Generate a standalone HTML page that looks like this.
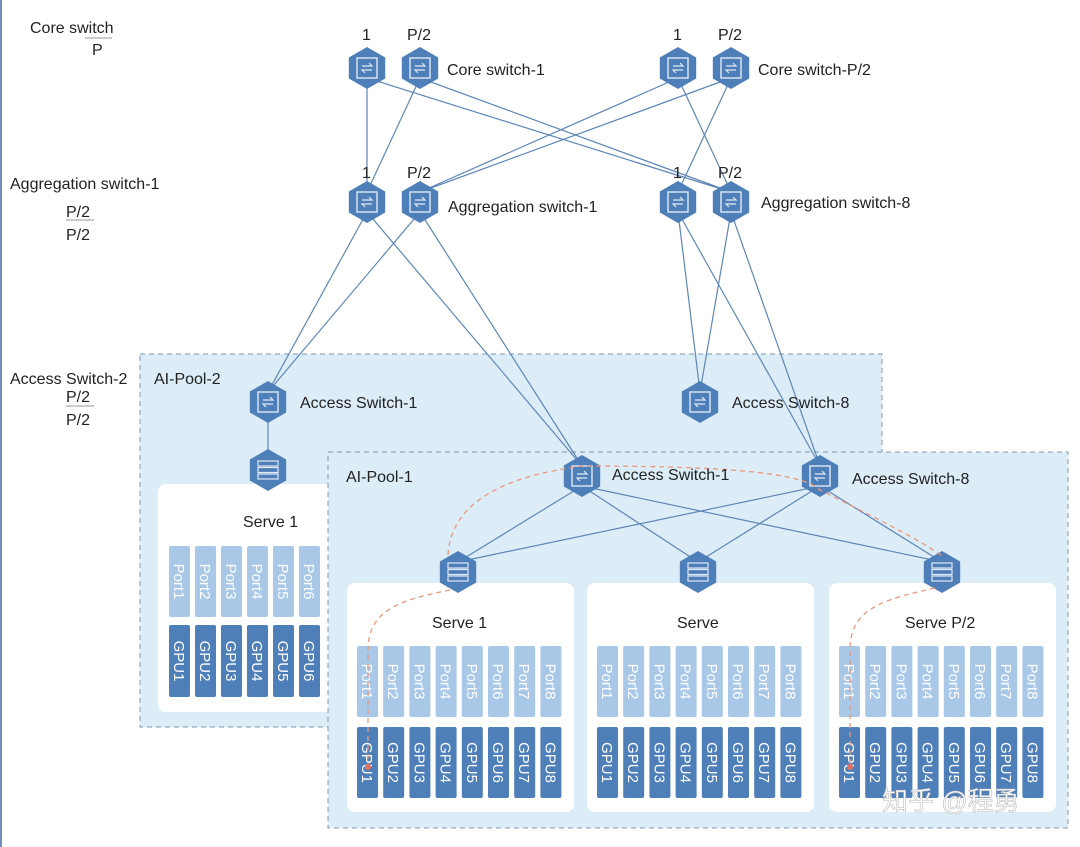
<!DOCTYPE html>
<html><head><meta charset="utf-8"><style>
html,body{margin:0;padding:0;background:#fff}
svg{display:block;font-family:"Liberation Sans","Noto Sans CJK SC",sans-serif}
</style></head><body>
<svg id="s" width="1080" height="847" viewBox="0 0 1080 847" xmlns="http://www.w3.org/2000/svg">
<rect x="0" y="0" width="2" height="847" fill="#6f8fb8"/>
<rect x="140" y="354" width="742" height="373" fill="#dcedf8" stroke="#7d97b0" stroke-dasharray="5,4"/>
<rect x="158" y="484" width="180" height="228" rx="8" fill="#fff"/>
<g id="lines" stroke="#5f86b6" stroke-width="1.2" fill="none"></g>
<rect x="328" y="452" width="740" height="376" fill="#dcedf8" stroke="#7d97b0" stroke-dasharray="5,4"/>
<g id="lines2" stroke="#5f86b6" stroke-width="1.2" fill="none"></g>
<g id="g"></g>
<g font-size="16" fill="#222">
<text x="30" y="33">Core switch</text><text x="92" y="55">P</text><line x1="85" y1="38" x2="112" y2="38" stroke="#999"/>
<text x="10" y="189">Aggregation switch-1</text><text x="66" y="217">P/2</text><line x1="66" y1="220" x2="94" y2="220" stroke="#999"/><text x="66" y="240">P/2</text>
<text x="10" y="384">Access Switch-2</text><text x="66" y="402">P/2</text><line x1="66" y1="406" x2="94" y2="406" stroke="#999"/><text x="66" y="425">P/2</text>
<text x="154" y="384">AI-Pool-2</text><text x="346" y="482">AI-Pool-1</text>
<text x="362" y="40">1</text><text x="407" y="40">P/2</text><text x="673" y="40">1</text><text x="718" y="40">P/2</text>
<text x="447" y="75">Core switch-1</text><text x="758" y="75">Core switch-P/2</text>
<text x="362" y="178">1</text><text x="407" y="178">P/2</text><text x="673" y="178">1</text><text x="718" y="178">P/2</text>
<text x="448" y="212">Aggregation switch-1</text><text x="761" y="208">Aggregation switch-8</text>
<text x="300" y="408">Access Switch-1</text><text x="732" y="408">Access Switch-8</text>
<text x="612" y="480">Access Switch-1</text><text x="852" y="484">Access Switch-8</text>
<text x="243" y="527">Serve 1</text><text x="432" y="628">Serve 1</text><text x="677" y="628">Serve</text><text x="905" y="628">Serve P/2</text>
</g>
<text x="882" y="810" font-size="26" fill="#fff" stroke="#bbb" stroke-width="0.6">知乎 @程勇</text>
</svg>
<script>
var NS="http://www.w3.org/2000/svg",g=document.getElementById('g');
function el(p,t,a,txt){var e=document.createElementNS(NS,t);for(var k in a)e.setAttribute(k,a[k]);if(txt)e.textContent=txt;p.appendChild(e);return e;}
function hex(cx,cy,type){var r=21,pts=[];for(var i=0;i<6;i++){var a=Math.PI/3*i+Math.PI/6;pts.push((cx+r*Math.cos(a)).toFixed(1)+','+(cy+r*Math.sin(a)).toFixed(1));}
el(g,'polygon',{points:pts.join(' '),fill:'#4f7fb8'});
if(type=='s'){el(g,'rect',{x:cx-10,y:cy-10,width:20,height:20,fill:'none',stroke:'#dfe9f5','stroke-width':1.4});
el(g,'path',{d:'M'+(cx-5)+' '+(cy-2)+'h10l-3-3M'+(cx+5)+' '+(cy+2)+'h-10l3 3',stroke:'#dfe9f5',fill:'none','stroke-width':1.2});}
else{for(var j=0;j<3;j++)el(g,'rect',{x:cx-10,y:cy-9+j*6.5,width:20,height:5,fill:'none',stroke:'#dfe9f5','stroke-width':1.2});}}
function ln(id,x1,y1,x2,y2){el(document.getElementById(id),'line',{x1:x1,y1:y1,x2:x2,y2:y2});}
var core=[367,420,678,731];
[[0,0],[0,3],[1,0],[1,3],[2,1],[2,3],[3,1],[3,2]].forEach(function(p){ln('lines',core[p[0]],78,core[p[1]],192);});
ln('lines',367,212,268,392);ln('lines',420,212,268,392);ln('lines',678,212,700,392);ln('lines',731,212,700,392);
ln('lines',268,412,268,460);
ln('lines2',367,212,582,466);ln('lines2',420,212,582,466);ln('lines2',678,212,820,466);ln('lines2',731,212,820,466);
[458,698,942].forEach(function(x){ln('lines2',582,486,x,562);ln('lines2',820,486,x,562);});
core.forEach(function(x){hex(x,68,'s');hex(x,202,'s');});
hex(268,402,'s');hex(700,402,'s');hex(268,470,'r');
[347,587,829].forEach(function(x){el(g,'rect',{x:x,y:583,width:227,height:229,rx:8,fill:'#fff'});});
function col(x,y,h,fill,txt){el(g,'rect',{x:x,y:y,width:21,height:h,rx:2,fill:fill});
el(g,'text',{x:0,y:0,'font-size':15,fill:'#fff',transform:'translate('+(x+5)+','+(y+h/2)+') rotate(90)','text-anchor':'middle'},txt);}
for(var i=0;i<6;i++){col(169+i*26,546,71,'#a9c8e8','Port'+(i+1));col(169+i*26,625,72,'#4f7fb8','GPU'+(i+1));}
[357,597,839].forEach(function(x0){for(var i=0;i<8;i++){col(x0+i*26.2,646,71,'#a9c8e8','Port'+(i+1));col(x0+i*26.2,727,71,'#4f7fb8','GPU'+(i+1));}});
hex(582,476,'s');hex(820,476,'s');hex(458,572,'r');hex(698,572,'r');hex(942,572,'r');
var d={fill:'none',stroke:'#e89880','stroke-width':1.3,'stroke-dasharray':'5,4'};
el(g,'path',Object.assign({d:'M448 555 C452 480 560 470 582 466 C700 466 800 470 820 490 C880 520 920 540 942 556'},d));
el(g,'path',Object.assign({d:'M450 590 C400 600 368 610 368 650 L368 765'},d));
el(g,'path',Object.assign({d:'M935 588 C880 600 850 610 850 650 L850 765'},d));
el(g,'circle',{cx:368,cy:767,r:3,fill:'#e07060'});el(g,'circle',{cx:850,cy:767,r:3,fill:'#e07060'});
</script>
</body></html>
